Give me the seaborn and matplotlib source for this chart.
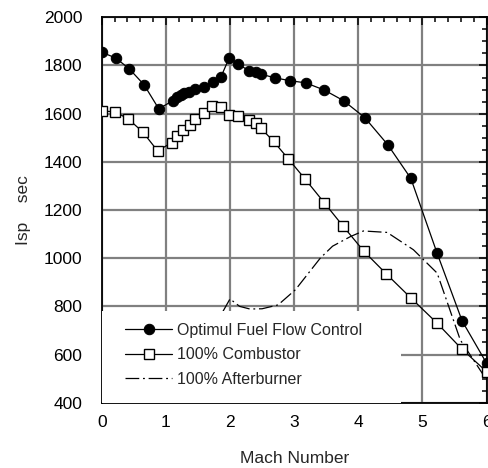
import numpy as np
import pandas as pd
import matplotlib
matplotlib.use("Agg")
import matplotlib.pyplot as plt
import seaborn as sns
from matplotlib.patches import Rectangle
from matplotlib.ticker import MultipleLocator

# ---- data ----
opt_mach = [0, 0.22, 0.43, 0.66, 0.89, 1.11, 1.18, 1.23, 1.29, 1.36, 1.46, 1.59, 1.74, 1.86,
            1.99, 2.13, 2.30, 2.40, 2.48, 2.70, 2.93, 3.18, 3.47, 3.77, 4.10, 4.46, 4.82,
            5.23, 5.62, 6.0]
opt_isp = [1855, 1831, 1786, 1720, 1620, 1654, 1668, 1677, 1684, 1690, 1701, 1712, 1733, 1753,
           1833, 1806, 1777, 1771, 1764, 1749, 1737, 1728, 1698, 1654, 1584, 1471, 1331,
           1020, 739, 564]

comb_mach = [0, 0.21, 0.41, 0.64, 0.87, 1.09, 1.18, 1.27, 1.37, 1.45, 1.59, 1.72, 1.86, 1.99,
             2.12, 2.29, 2.40, 2.48, 2.68, 2.91, 3.17, 3.47, 3.76, 4.09, 4.44, 4.82, 5.23,
             5.61, 6.0]
comb_isp = [1612, 1607, 1579, 1524, 1446, 1479, 1507, 1533, 1554, 1576, 1601, 1633, 1629, 1594,
            1590, 1574, 1562, 1540, 1485, 1412, 1329, 1230, 1134, 1028, 934, 835, 730,
            624, 529]

ab_mach = [1.89, 2.0, 2.15, 2.31, 2.5, 2.75, 3.02, 3.2, 3.41, 3.6, 3.88, 4.08, 4.45, 4.86,
           5.23, 5.59, 6.0]
ab_isp = [779, 831, 800, 789, 790, 806, 869, 930, 1001, 1050, 1090, 1113, 1107, 1035,
          938, 661, 495]

labels = ["Optimul Fuel Flow Control", "100% Combustor", "100% Afterburner"]
x_label = "Mach Number"
y_label = "Isp    sec"

# ---- figure ----
sns.set_style("white")
plt.rcParams["font.family"] = ["Liberation Sans", "DejaVu Sans"]

fig = plt.figure(figsize=(4.89, 4.68), dpi=100)
ax = fig.add_axes([0.208, 0.1395, 0.787, 0.8235])

df_opt = pd.DataFrame({"x": opt_mach, "y": opt_isp})
df_comb = pd.DataFrame({"x": comb_mach, "y": comb_isp})
df_ab = pd.DataFrame({"x": ab_mach, "y": ab_isp})

sns.lineplot(data=df_opt, x="x", y="y", ax=ax, color="black", lw=0.9,
             marker="o", markersize=7.5, markerfacecolor="black",
             markeredgecolor="black", estimator=None, sort=False,
             label=labels[0], zorder=4)
sns.lineplot(data=df_comb, x="x", y="y", ax=ax, color="black", lw=0.9,
             marker="s", markersize=7.5, markerfacecolor="white",
             markeredgecolor="black", markeredgewidth=1.0, estimator=None,
             sort=False, label=labels[1], zorder=4)
sns.lineplot(data=df_ab, x="x", y="y", ax=ax, color="black", lw=0.9,
             estimator=None, sort=False, label=labels[2], zorder=2)
ax.lines[-1].set_dashes([11, 3, 1.5, 3])

ax.set_xlim(0, 6)
ax.set_ylim(400, 2000)
ax.xaxis.set_major_locator(MultipleLocator(1))
ax.xaxis.set_minor_locator(MultipleLocator(0.2))
ax.yaxis.set_major_locator(MultipleLocator(200))
ax.yaxis.set_minor_locator(MultipleLocator(50))

ax.grid(True, which="major", color="#808080", lw=1.6)
ax.set_axisbelow(True)

for s in ax.spines.values():
    s.set_visible(True)
    s.set_color("black")
    s.set_linewidth(1.3)

ax.tick_params(which="both", direction="in", top=True, right=True, colors="black",
               labelsize=12.5, width=1.1)
ax.tick_params(which="major", length=6)
ax.tick_params(which="minor", length=3.5)
ax.tick_params(axis="y", which="major", pad=14)
ax.tick_params(axis="x", which="major", pad=9)

ax.set_xlabel(x_label, fontsize=12.5)
ax.set_ylabel(y_label, fontsize=12.5)
ax.xaxis.set_label_coords(0.5, -0.125)
ax.yaxis.set_label_coords(-0.185, 0.5)

# white legend area covering grid in the lower left
ax.add_patch(Rectangle((0, 0), 0.777, 0.238, transform=ax.transAxes,
                       facecolor="white", edgecolor="none", zorder=3))

leg = ax.legend(loc="lower left", bbox_to_anchor=(0.045, 0.025), frameon=False,
                fontsize=11.5, handlelength=2.9, handletextpad=0.35,
                labelspacing=0.6, borderaxespad=0)
leg.set_zorder(5)

fig.savefig("out.png", dpi=100)
